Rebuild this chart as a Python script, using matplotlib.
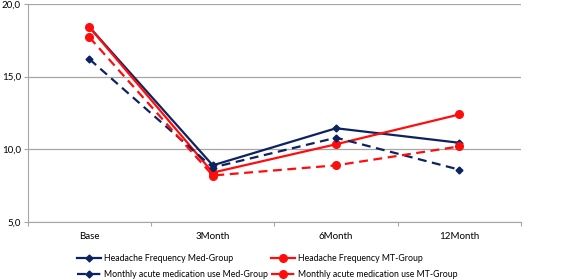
import matplotlib.pyplot as plt
import numpy as np
from matplotlib.ticker import FixedLocator, FuncFormatter

plt.rcParams['font.family'] = ['Lato', 'DejaVu Sans']
plt.rcParams['font.size'] = 7

categories = ["Base", "3Month", "6Month", "12Month"]
hf_med = [18.4, 8.9, 11.45, 10.45]
hf_mt = [18.4, 8.4, 10.35, 12.4]
med_use_med = [16.2, 8.75, 10.8, 8.6]
med_use_mt = [17.7, 8.2, 8.9, 10.2]

navy = "#0D2361"
red = "#FF0D0D"

fig = plt.figure(figsize=(5.67, 2.8), dpi=100)
ax = fig.add_axes([0.049, 0.207, 0.870, 0.779])

x = np.arange(len(categories))
l1, = ax.plot(x, hf_med, color=navy, lw=1.6, marker="D", ms=3.5, label="Headache Frequency Med-Group")
l2, = ax.plot(x, hf_mt, color=red, lw=1.6, marker="o", ms=5.5, label="Headache Frequency MT-Group")
l3, = ax.plot(x, med_use_med, color=navy, lw=1.6, ls=(0, (4, 2.5)), marker="D", ms=3.5,
              label="Monthly acute medication use Med-Group")
l4, = ax.plot(x, med_use_mt, color=red, lw=1.6, ls=(0, (4, 2.5)), marker="o", ms=5.5,
              label="Monthly acute medication use MT-Group")

ax.set_xlim(-0.5, 3.5)
ax.set_ylim(5, 20)
ax.set_yticks([5, 10, 15, 20])
ax.yaxis.set_major_formatter(FuncFormatter(lambda v, p: f"{v:.1f}".replace(".", ",")))
ax.yaxis.grid(True, color="#A6A6A6", lw=0.9)
ax.set_axisbelow(True)

ax.xaxis.set_major_locator(FixedLocator(np.arange(-0.5, 4, 1)))
ax.xaxis.set_major_formatter(FuncFormatter(lambda v, p: ""))
ax.xaxis.set_minor_locator(FixedLocator(x))
ax.set_xticklabels(categories, minor=True)
ax.tick_params(axis="x", which="minor", length=0, pad=7)
ax.tick_params(axis="x", which="major", length=3, color="#A6A6A6")
ax.tick_params(axis="y", length=3, color="#A6A6A6", pad=2)

for s in ["top", "right"]:
    ax.spines[s].set_visible(False)
for s in ["left", "bottom"]:
    ax.spines[s].set_color("#A6A6A6")

fig.legend([l1, l3, l2, l4], [l.get_label() for l in (l1, l3, l2, l4)], ncol=2,
           loc="upper left", bbox_to_anchor=(0.128, 0.11),
           frameon=False, handlelength=2.8, handletextpad=0.3, columnspacing=0.3,
           labelspacing=0.85, borderpad=0, fontsize=6.3)

fig.savefig("out.png", dpi=100)
